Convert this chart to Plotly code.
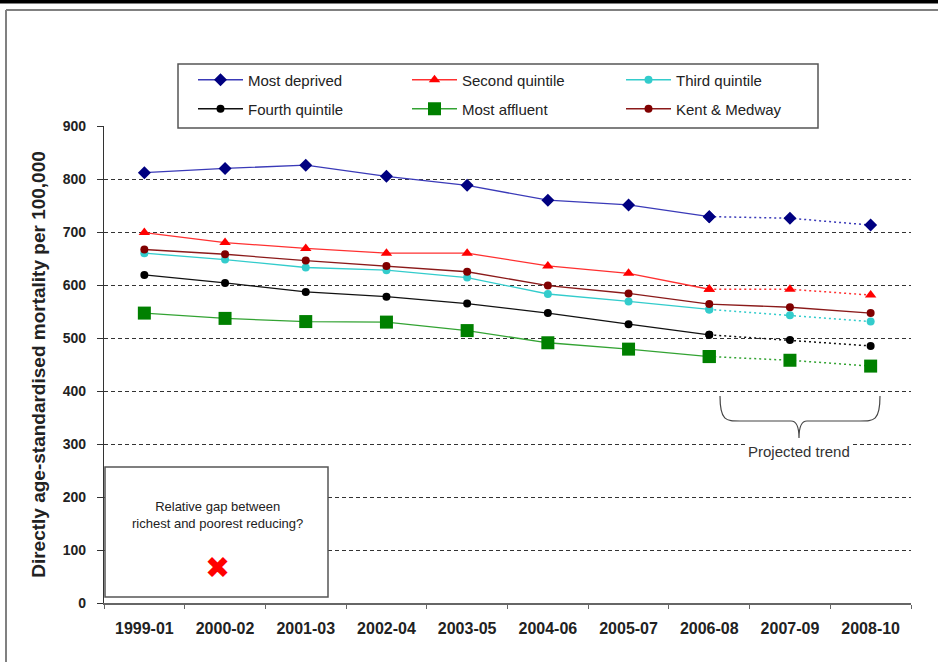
import plotly.graph_objects as go

# Three-year rolling periods
periods = ["1999-01", "2000-02", "2001-03", "2002-04", "2003-05",
           "2004-06", "2005-07", "2006-08", "2007-09", "2008-10"]

# Directly age-standardised mortality per 100,000 by deprivation quintile
most_deprived = [812, 820, 826, 805, 788, 760, 751, 729, 726, 713]
second_quintile = [699, 680, 669, 660, 660, 636, 622, 592, 592, 581]
third_quintile = [660, 648, 633, 628, 614, 583, 569, 554, 543, 531]
fourth_quintile = [619, 604, 587, 578, 565, 547, 526, 506, 496, 485]
most_affluent = [547, 537, 531, 530, 514, 491, 479, 465, 458, 447]
kent_medway = [667, 658, 646, 636, 625, 599, 584, 564, 558, 547]

# Index of the last observed period; later values are projections
last_observed = 7

y_ticks = [0, 100, 200, 300, 400, 500, 600, 700, 800, 900]

FONT = "Liberation Sans, Arial, sans-serif"

series = [
    # name, values, line colour, marker colour, symbol, size, projected dotted, legend row
    ("Most deprived", most_deprived, "#3a3ab8", "#000080", "diamond", 10, True, "legend"),
    ("Second quintile", second_quintile, "#ff3030", "#ff0000", "triangle-up", 10, True, "legend"),
    ("Third quintile", third_quintile, "#33cccc", "#33cccc", "circle", 8, True, "legend"),
    ("Fourth quintile", fourth_quintile, "#111111", "#000000", "circle", 8, True, "legend2"),
    ("Most affluent", most_affluent, "#33a333", "#008000", "square", 13, True, "legend2"),
    ("Kent & Medway", kent_medway, "#8b1a1a", "#800000", "circle", 8, False, "legend2"),
]

fig = go.Figure()

for name, vals, lcol, mcol, sym, size, projected, leg in series:
    end = last_observed + 1 if projected else len(vals)
    fig.add_trace(go.Scatter(
        x=periods[:end], y=vals[:end], name=name, legendgroup=name, legend=leg,
        mode="lines+markers",
        line=dict(color=lcol, width=1.3),
        marker=dict(symbol=sym, size=size, color=mcol, line=dict(width=0)),
    ))
    if projected:
        fig.add_trace(go.Scatter(
            x=periods[last_observed:], y=vals[last_observed:], name=name,
            legendgroup=name, legend=leg, showlegend=False, mode="lines+markers",
            line=dict(color=lcol, width=1.5, dash="2px,3px"),
            marker=dict(symbol=sym, size=size, color=mcol, line=dict(width=0)),
        ))

# Plot-area geometry in pixels, used to place decorations
W, H = 938, 662
ML, MR, MT, MB = 104, 27, 126, 59
PW, PH = W - ML - MR, H - MT - MB


def px_x(px):
    return (px - ML) / PW


def px_y(py):
    return (H - MB - py) / PH


shapes = []
# Outer frame: dark band at top, grey border lines
shapes.append(dict(type="rect", xref="paper", yref="paper",
                   x0=px_x(0), x1=px_x(W), y0=px_y(0), y1=px_y(3.5),
                   fillcolor="#000000", line=dict(width=0), layer="above"))
shapes.append(dict(type="line", xref="paper", yref="paper",
                   x0=px_x(6), x1=px_x(W), y0=px_y(10), y1=px_y(10),
                   line=dict(color="#808080", width=2), layer="above"))
shapes.append(dict(type="line", xref="paper", yref="paper",
                   x0=px_x(6), x1=px_x(6), y0=px_y(10), y1=px_y(H),
                   line=dict(color="#808080", width=2), layer="above"))

# Legend frame enclosing both legend rows
shapes.append(dict(type="rect", xref="paper", yref="paper",
                   x0=px_x(178), x1=px_x(818), y0=px_y(128), y1=px_y(64),
                   fillcolor="#ffffff", line=dict(color="#555555", width=1.5),
                   layer="above"))

# Comment box in the lower-left corner
shapes.append(dict(type="rect", xref="paper", yref="paper",
                   x0=px_x(105), x1=px_x(328), y0=px_y(597), y1=px_y(467),
                   fillcolor="#ffffff", line=dict(color="#555555", width=1.5),
                   layer="above"))

# Brace spanning the projected periods
bx0, bx1, bmid = 720, 880, 799
btop, bbar, btip = 396, 421, 438
brace_pts = [
    f"M {px_x(bx0)},{px_y(btop)}",
    f"C {px_x(bx0)},{px_y(bbar)} {px_x(bx0 + 6)},{px_y(bbar)} {px_x(bx0 + 20)},{px_y(bbar)}",
    f"L {px_x(bmid - 8)},{px_y(bbar)}",
    f"C {px_x(bmid - 2)},{px_y(bbar)} {px_x(bmid)},{px_y(bbar + 6)} {px_x(bmid)},{px_y(btip)}",
    f"C {px_x(bmid)},{px_y(bbar + 6)} {px_x(bmid + 2)},{px_y(bbar)} {px_x(bmid + 8)},{px_y(bbar)}",
    f"L {px_x(bx1 - 20)},{px_y(bbar)}",
    f"C {px_x(bx1 - 6)},{px_y(bbar)} {px_x(bx1)},{px_y(bbar)} {px_x(bx1)},{px_y(btop)}",
]
shapes.append(dict(type="path", xref="paper", yref="paper", path=" ".join(brace_pts),
                   line=dict(color="#444444", width=1.2), layer="above"))

annotations = [
    dict(xref="paper", yref="paper", x=px_x(217), y=px_y(515),
         xanchor="center", yanchor="middle",
         text="Relative gap between<br>richest and poorest reducing?",
         showarrow=False, font=dict(family=FONT, size=13, color="#222222"),
         align="center"),
    dict(xref="paper", yref="paper", x=px_x(217), y=px_y(567),
         xanchor="center", yanchor="middle",
         text="\u2716", showarrow=False,
         font=dict(family="DejaVu Sans", size=30, color="#ff0000")),
    dict(xref="paper", yref="paper", x=px_x(bmid), y=px_y(451),
         xanchor="center", yanchor="middle",
         text="Projected trend", showarrow=False, bgcolor="#ffffff",
         font=dict(family=FONT, size=15, color="#333333")),
]

legend_common = dict(
    orientation="h", xanchor="left", yanchor="middle",
    bgcolor="rgba(0,0,0,0)", borderwidth=0,
    font=dict(family=FONT, size=15, color="#222222"),
    entrywidth=154, entrywidthmode="pixels", itemwidth=45,
    traceorder="normal",
)

fig.update_layout(
    width=W, height=H,
    margin=dict(l=ML, r=MR, t=MT, b=MB),
    paper_bgcolor="#ffffff", plot_bgcolor="#ffffff",
    font=dict(family=FONT, color="#222222"),
    showlegend=True,
    legend=dict(x=px_x(193), y=px_y(80), **legend_common),
    legend2=dict(x=px_x(193), y=px_y(109), **legend_common),
    shapes=shapes,
    annotations=annotations,
)

fig.update_xaxes(
    type="category", categoryorder="array", categoryarray=periods,
    range=[-0.5, len(periods) - 0.5],
    showline=True, linecolor="#666666", linewidth=1.5,
    ticks="outside", tickson="boundaries", ticklen=4, tickcolor="#666666",
    tickfont=dict(family=FONT, size=16, color="#222222", weight="bold"),
    ticklabelstandoff=10,
    showgrid=False, zeroline=False,
)

fig.update_yaxes(
    range=[0, 900], tickvals=y_ticks, ticktext=[str(v) for v in y_ticks],
    showline=True, linecolor="#333333", linewidth=1.2,
    ticks="outside", ticklen=6, tickcolor="#333333",
    tickfont=dict(family=FONT, size=14, color="#222222", weight="bold"),
    ticklabelstandoff=8,
    showgrid=True, gridcolor="#333333", gridwidth=1, griddash="4px,3px",
    zeroline=False,
    title=dict(text="Directly age-standardised mortality per 100,000",
               font=dict(family=FONT, size=19, color="#222222", weight="bold"),
               standoff=12),
)

fig.write_html("out.html")
